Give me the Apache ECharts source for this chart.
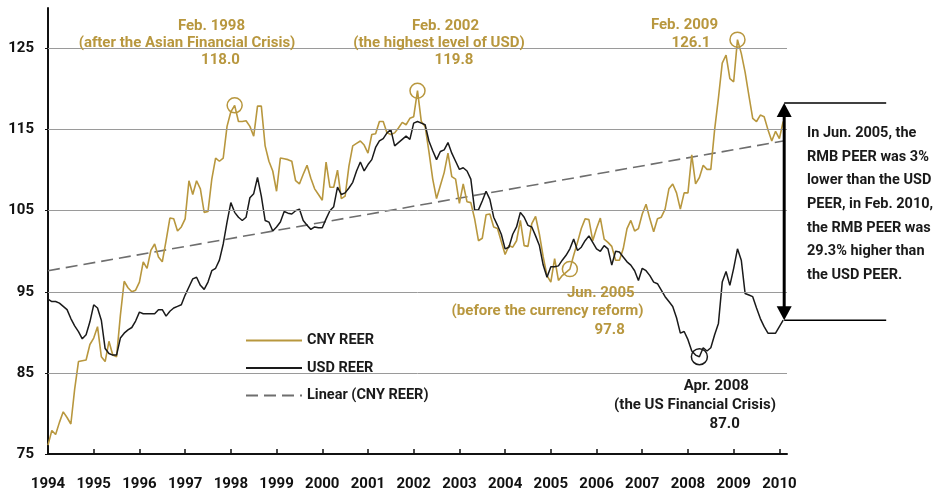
<!DOCTYPE html>
<html lang="en">
<head>
	<meta charset="UTF-8">
	<title>CNY REER vs USD REER</title>
	<style>html,body{margin:0;padding:0;background:#fff;}</style>
</head>
<body>
	<div id="main" style="width:935px;height:492px;"></div>
<script src="https://cdn.jsdelivr.net/npm/echarts@6/dist/echarts.min.js"></script>
<script>
	// monthly data, Jan 1994 .. Feb 2010
	var startYear = 1994;
	var cnyReer = [
		76.1,77.9,77.4,78.9,80.2,79.5,78.7,83.0,86.4,86.5,86.6,88.5,
		89.3,90.7,87.0,86.4,88.9,87.2,87.0,92.1,96.3,95.5,95.0,95.2,
		96.2,98.7,97.9,100.1,100.9,99.3,98.7,101.3,104.1,104.0,102.5,103.0,
		104.0,108.7,107.0,108.7,107.7,104.8,104.9,108.9,111.5,111.1,111.5,115.4,
		117.2,118.0,116.0,116.0,116.1,115.4,114.2,117.9,117.9,113.0,111.1,109.9,
		107.4,111.5,111.4,111.3,111.1,108.7,108.3,109.5,110.6,109.0,107.7,107.0,
		106.3,111.0,107.9,107.9,110.0,106.5,106.8,110.5,113.0,113.3,113.6,113.1,
		112.1,114.4,114.5,116.0,116.0,114.6,114.4,114.6,115.2,115.9,115.6,116.4,
		116.6,119.8,116.0,115.4,112.3,108.9,106.5,108.1,109.7,112.1,109.2,108.9,
		105.9,108.3,106.1,106.0,104.0,101.3,101.6,104.5,104.6,103.0,102.8,101.2,
		99.6,100.7,100.5,101.3,103.8,100.7,100.6,103.4,104.3,102.1,99.3,97.0,
		96.2,99.1,96.4,97.0,97.4,97.8,99.5,101.1,102.8,104.0,103.9,101.3,
		102.8,104.1,101.5,101.1,100.6,98.9,98.9,100.3,102.8,103.8,102.5,102.8,
		104.6,105.8,104.0,102.4,104.0,104.2,105.2,107.7,108.3,107.2,105.2,107.2,
		107.2,111.9,108.3,109.1,110.6,110.1,110.1,115.0,118.9,123.2,124.2,121.3,
		120.9,126.1,124.4,122.1,119.2,116.4,116.0,116.8,116.6,115.0,113.6,114.8,
		113.9,116.0
	];
	var usdReer = [
		94.1,93.8,93.8,93.6,93.2,92.8,91.7,90.8,90.1,89.2,89.7,91.3,
		93.4,93.0,91.5,88.0,87.4,87.2,87.2,89.3,89.9,90.3,90.6,91.4,
		92.5,92.3,92.3,92.3,92.3,92.8,92.8,92.0,92.6,93.0,93.2,93.4,
		94.6,95.6,96.6,96.8,95.8,95.3,96.2,97.6,97.9,98.9,100.9,103.6,
		106.0,104.8,104.2,103.8,104.2,106.6,107.1,109.1,106.8,103.8,103.6,102.5,
		103.0,103.6,104.9,104.7,104.6,105.0,105.2,103.8,103.2,102.7,103.0,102.9,
		102.9,104.0,105.0,105.5,107.9,107.0,107.2,107.8,108.5,109.9,111.0,109.9,
		110.7,111.3,112.8,113.6,113.9,114.6,115.0,113.0,113.4,113.8,114.2,113.8,
		115.8,116.0,115.8,115.6,113.6,112.4,111.3,112.3,112.5,113.4,112.1,111.1,
		110.1,110.3,109.9,108.9,105.1,105.1,106.2,107.4,106.4,104.2,103.2,102.1,
		100.3,100.5,102.1,103.0,104.8,104.2,103.2,103.0,101.9,100.7,98.3,96.8,
		98.1,98.1,98.2,98.9,99.5,100.3,101.5,100.1,100.5,101.3,101.9,101.1,
		100.3,100.0,100.7,100.3,98.3,100.0,99.9,99.3,98.7,98.3,97.6,96.4,
		97.9,97.6,97.0,96.2,96.0,95.2,94.4,93.8,93.2,91.8,89.9,90.1,
		89.1,87.7,87.2,87.0,88.1,87.7,88.1,89.7,91.1,96.2,97.5,95.8,
		97.9,100.3,98.9,94.8,94.6,94.4,93.0,91.7,90.7,89.9,89.9,89.9,
		90.7,91.5
	];
	// linear trend of CNY REER, value at Jan 1994 and at Feb 2010
	var linearCny = [97.6, 113.6];
	var yTicks = [75, 85, 95, 105, 115, 125];
	var xTicks = [1994,1995,1996,1997,1998,1999,2000,2001,2002,2003,2004,2005,2006,2007,2008,2009,2010];

	// circled points: month index from Jan 1994, value
	var cnyMarks = [[49, 118.0], [97, 119.8], [137, 97.8], [181, 126.1]];
	var usdMarks = [[171, 87.0]];
	// PEER gap arrow (month index, top value, bottom value)
	var arrowMonth = 193, arrowTop = 118.3, arrowBottom = 91.5;

	var GOLD = '#B8973E';
	var INK = '#1a1a1a';
	var FONT = 'Roboto, "Liberation Sans", sans-serif';

	function toX(i){ return startYear + i / 12; }
	function pairs(arr){
		var out = [];
		for (var i = 0; i < arr.length; i++) out.push([toX(i), arr[i]]);
		return out;
	}
	function circles(list){
		return list.map(function(p){ return { coord: [toX(p[0]), p[1]] }; });
	}

	var goldNotes = [
		['Feb. 1998', 211.5, 26], ['(after the Asian Financial Crisis)', 187, 43.3], ['118.0', 220.5, 60],
		['Feb. 2002', 445.5, 26], ['(the highest level of USD)', 439, 43.3], ['119.8', 454, 60],
		['Feb. 2009', 684.5, 25], ['126.1', 691, 43],
		['Jun. 2005', 600.8, 293.3], ['(before the currency reform)', 547.5, 311], ['97.8', 609.7, 330]
	];
	var blackNotes = [
		['Apr. 2008', 716.3, 386.7], ['(the US Financial Crisis)', 695, 405.7], ['87.0', 724.7, 424.3]
	];

	var myChart = echarts.init(document.getElementById('main'));

	var option = {
		animation: false,
		backgroundColor: '#fff',
		grid: { left: 48, right: 148, top: 8, bottom: 35.3 },
		legend: {
			orient: 'vertical',
			left: 240,
			top: 328,
			itemWidth: 56,
			itemHeight: 14,
			itemGap: 12.5,
			itemStyle: { opacity: 0 },
			data: ['CNY REER', 'USD REER', 'Linear (CNY REER)'],
			textStyle: { fontFamily: FONT, fontWeight: 'bold', fontSize: 14.5, color: INK }
		},
		xAxis: {
			type: 'value',
			min: startYear,
			max: startYear + 194 / 12,
			interval: 1,
			axisLine: { lineStyle: { color: '#111', width: 2 } },
			axisTick: { show: true, inside: true, length: 5, customValues: xTicks, lineStyle: { color: '#111', width: 1.5 } },
			axisLabel: {
				customValues: xTicks, margin: 23, fontFamily: FONT, fontWeight: 'bold', fontSize: 15, color: '#111',
				formatter: function(v){ return String(Math.round(v)); }
			},
			splitLine: { show: false }
		},
		yAxis: {
			type: 'value',
			min: 75,
			max: 130,
			interval: 10,
			axisLine: { show: true, lineStyle: { color: '#111', width: 2 } },
			axisTick: { show: true, length: 3, customValues: yTicks, lineStyle: { color: '#111' } },
			axisLabel: { customValues: yTicks, margin: 14, fontFamily: FONT, fontWeight: 'bold', fontSize: 15, color: '#111' },
			splitLine: { show: false }
		},
		series: [
			{
				name: 'grid',
				type: 'line',
				data: [],
				z: 1,
				markLine: {
					silent: true,
					symbol: ['none', 'none'],
					label: { show: false },
					lineStyle: { color: '#9a9a9a', type: 'solid', width: 1 },
					data: yTicks.slice(1).map(function(v){ return { yAxis: v }; })
				}
			},
			{
				name: 'CNY REER',
				type: 'line',
				data: pairs(cnyReer),
				symbol: 'none',
				z: 3,
				lineStyle: { color: GOLD, width: 1.6 },
				itemStyle: { color: GOLD },
				markPoint: {
					symbol: 'circle',
					symbolSize: 15,
					silent: true,
					label: { show: false },
					itemStyle: { color: 'rgba(0,0,0,0)', borderColor: GOLD, borderWidth: 1.5, opacity: 1 },
					data: circles(cnyMarks)
				}
			},
			{
				name: 'USD REER',
				type: 'line',
				data: pairs(usdReer),
				symbol: 'none',
				z: 3,
				lineStyle: { color: INK, width: 1.5 },
				itemStyle: { color: INK },
				markPoint: {
					symbol: 'circle',
					symbolSize: 16,
					silent: true,
					label: { show: false },
					itemStyle: { color: 'rgba(0,0,0,0)', borderColor: INK, borderWidth: 1.5, opacity: 1 },
					data: circles(usdMarks)
				}
			},
			{
				name: 'Linear (CNY REER)',
				type: 'line',
				data: [[toX(0), linearCny[0]], [toX(cnyReer.length - 1), linearCny[1]]],
				symbol: 'none',
				z: 2,
				lineStyle: { color: '#6e6e6e', width: 1.6, type: [12, 6] },
				itemStyle: { color: '#6e6e6e' }
			}
		]
	};
	myChart.setOption(option);

	// annotations
	var graphics = [];
	goldNotes.forEach(function(n){
		graphics.push({ type: 'text', x: n[1], y: n[2], z: 10,
			style: { text: n[0], fill: GOLD, font: 'bold 15px ' + FONT, align: 'center', verticalAlign: 'middle' } });
	});
	blackNotes.forEach(function(n){
		graphics.push({ type: 'text', x: n[1], y: n[2], z: 10,
			style: { text: n[0], fill: INK, font: 'bold 15px ' + FONT, align: 'center', verticalAlign: 'middle' } });
	});
	graphics.push({ type: 'text', x: 807, y: 121.5, z: 10,
		style: {
			text: 'In Jun. 2005, the\nRMB PEER was 3%\nlower than the USD\nPEER, in Feb. 2010,\nthe RMB PEER was\n29.3% higher than\nthe USD PEER.',
			fill: INK, font: 'bold 14.5px ' + FONT, lineHeight: 23.7, align: 'left', verticalAlign: 'top'
		} });

	var pTop = myChart.convertToPixel({ gridIndex: 0 }, [toX(arrowMonth), arrowTop]);
	var pBot = myChart.convertToPixel({ gridIndex: 0 }, [toX(arrowMonth), arrowBottom]);
	var ax = pTop[0] + 1;
	graphics.push({ type: 'line', z: 10, shape: { x1: ax, y1: pTop[1], x2: ax + 102, y2: pTop[1] }, style: { stroke: '#000', lineWidth: 1.5 } });
	graphics.push({ type: 'line', z: 10, shape: { x1: ax, y1: pBot[1], x2: ax + 102, y2: pBot[1] }, style: { stroke: '#000', lineWidth: 1.5 } });
	graphics.push({ type: 'line', z: 10, shape: { x1: ax, y1: pTop[1] + 10, x2: ax, y2: pBot[1] - 10 }, style: { stroke: '#000', lineWidth: 3 } });
	graphics.push({ type: 'polygon', z: 10, shape: { points: [[ax, pTop[1]], [ax - 7.5, pTop[1] + 14], [ax + 7.5, pTop[1] + 14]] }, style: { fill: '#000' } });
	graphics.push({ type: 'polygon', z: 10, shape: { points: [[ax, pBot[1]], [ax - 7.5, pBot[1] - 14], [ax + 7.5, pBot[1] - 14]] }, style: { fill: '#000' } });

	myChart.setOption({ graphic: graphics });
</script>
</body>
</html>
